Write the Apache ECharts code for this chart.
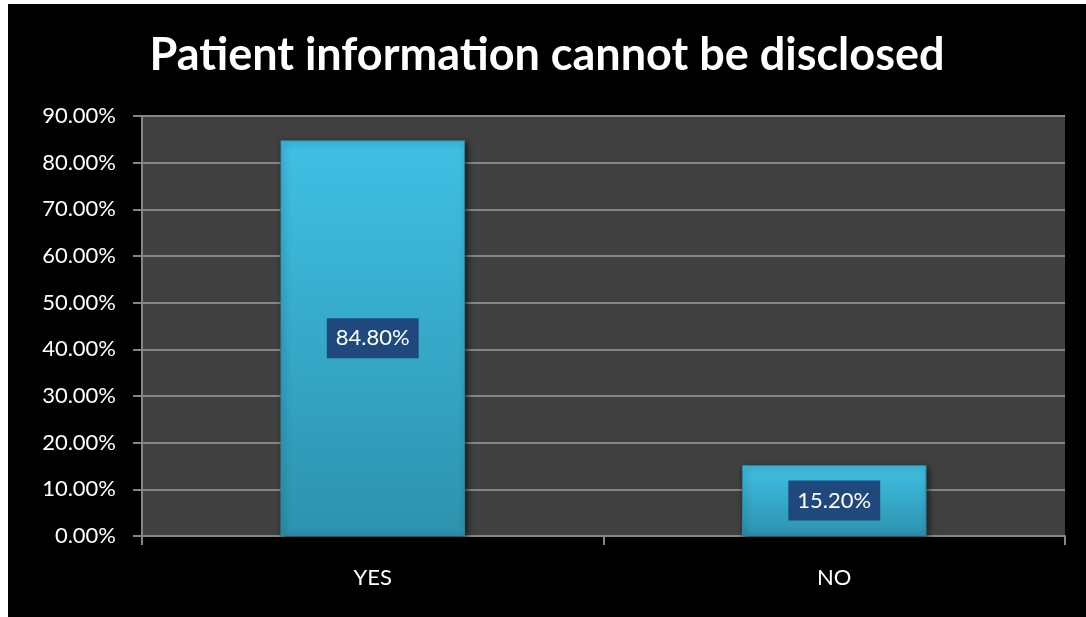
<!DOCTYPE html>
<html>
<head>
<meta charset="utf-8">
<script src="https://cdn.jsdelivr.net/npm/echarts@6/dist/echarts.min.js"></script>
<style>
  html, body { margin: 0; padding: 0; background: #ffffff; }
  #chart { position: absolute; left: 8px; top: 4px; width: 1078px; height: 613px; background: #000000; }
</style>
</head>
<body>
<div id="chart"></div>
<script>
// Survey responses: share of respondents (percent)
const categories = ['YES', 'NO'];
const percentages = [84.8, 15.2];
const yTicks = { min: 0, max: 90, interval: 10 };

const chart = echarts.init(document.getElementById('chart'));
const font = 'Lato, "Noto Sans", sans-serif';

chart.setOption({
  backgroundColor: '#000000',
  animation: false,
  title: {
    text: 'Patient information cannot be disclosed',
    left: 'center',
    top: 24,
    textStyle: { color: '#ffffff', fontSize: 45, fontWeight: 'bold', fontFamily: font }
  },
  grid: {
    left: 134, right: 21, top: 112, bottom: 81,
    show: true, backgroundColor: '#404040', borderWidth: 0
  },
  xAxis: {
    type: 'category',
    data: categories,
    axisLine: { lineStyle: { color: '#868686', width: 2 } },
    axisTick: { show: true, length: 9, lineStyle: { color: '#868686', width: 2 } },
    axisLabel: { color: '#ffffff', fontSize: 22, fontFamily: font, margin: 31 }
  },
  yAxis: {
    type: 'value',
    min: yTicks.min, max: yTicks.max, interval: yTicks.interval,
    axisLine: { show: true, lineStyle: { color: '#868686', width: 2 } },
    axisTick: { show: true, length: 9, lineStyle: { color: '#868686', width: 2 } },
    splitLine: { lineStyle: { color: '#868686', width: 2 } },
    axisLabel: {
      color: '#ffffff', fontSize: 22, fontFamily: font, margin: 26,
      formatter: v => v.toFixed(2) + '%'
    }
  },
  series: [{
    type: 'bar',
    data: percentages,
    barWidth: '40%',
    itemStyle: {
      color: {
        type: 'linear', x: 0, y: 0, x2: 0, y2: 1,
        colorStops: [
          { offset: 0, color: '#3fc0e4' },
          { offset: 1, color: '#2d92ae' }
        ]
      },
      borderColor: '#2a86a0',
      borderWidth: 1,
      shadowColor: 'rgba(0,0,0,0.6)',
      shadowBlur: 6,
      shadowOffsetX: 2,
      shadowOffsetY: 2
    },
    label: {
      show: true,
      position: 'inside',
      color: '#ffffff',
      fontSize: 22,
      lineHeight: 24,
      fontFamily: font,
      backgroundColor: '#1f497d',
      padding: [8, 9, 8, 9],
      formatter: p => p.value.toFixed(2) + '%'
    }
  }]
});
</script>
</body>
</html>
